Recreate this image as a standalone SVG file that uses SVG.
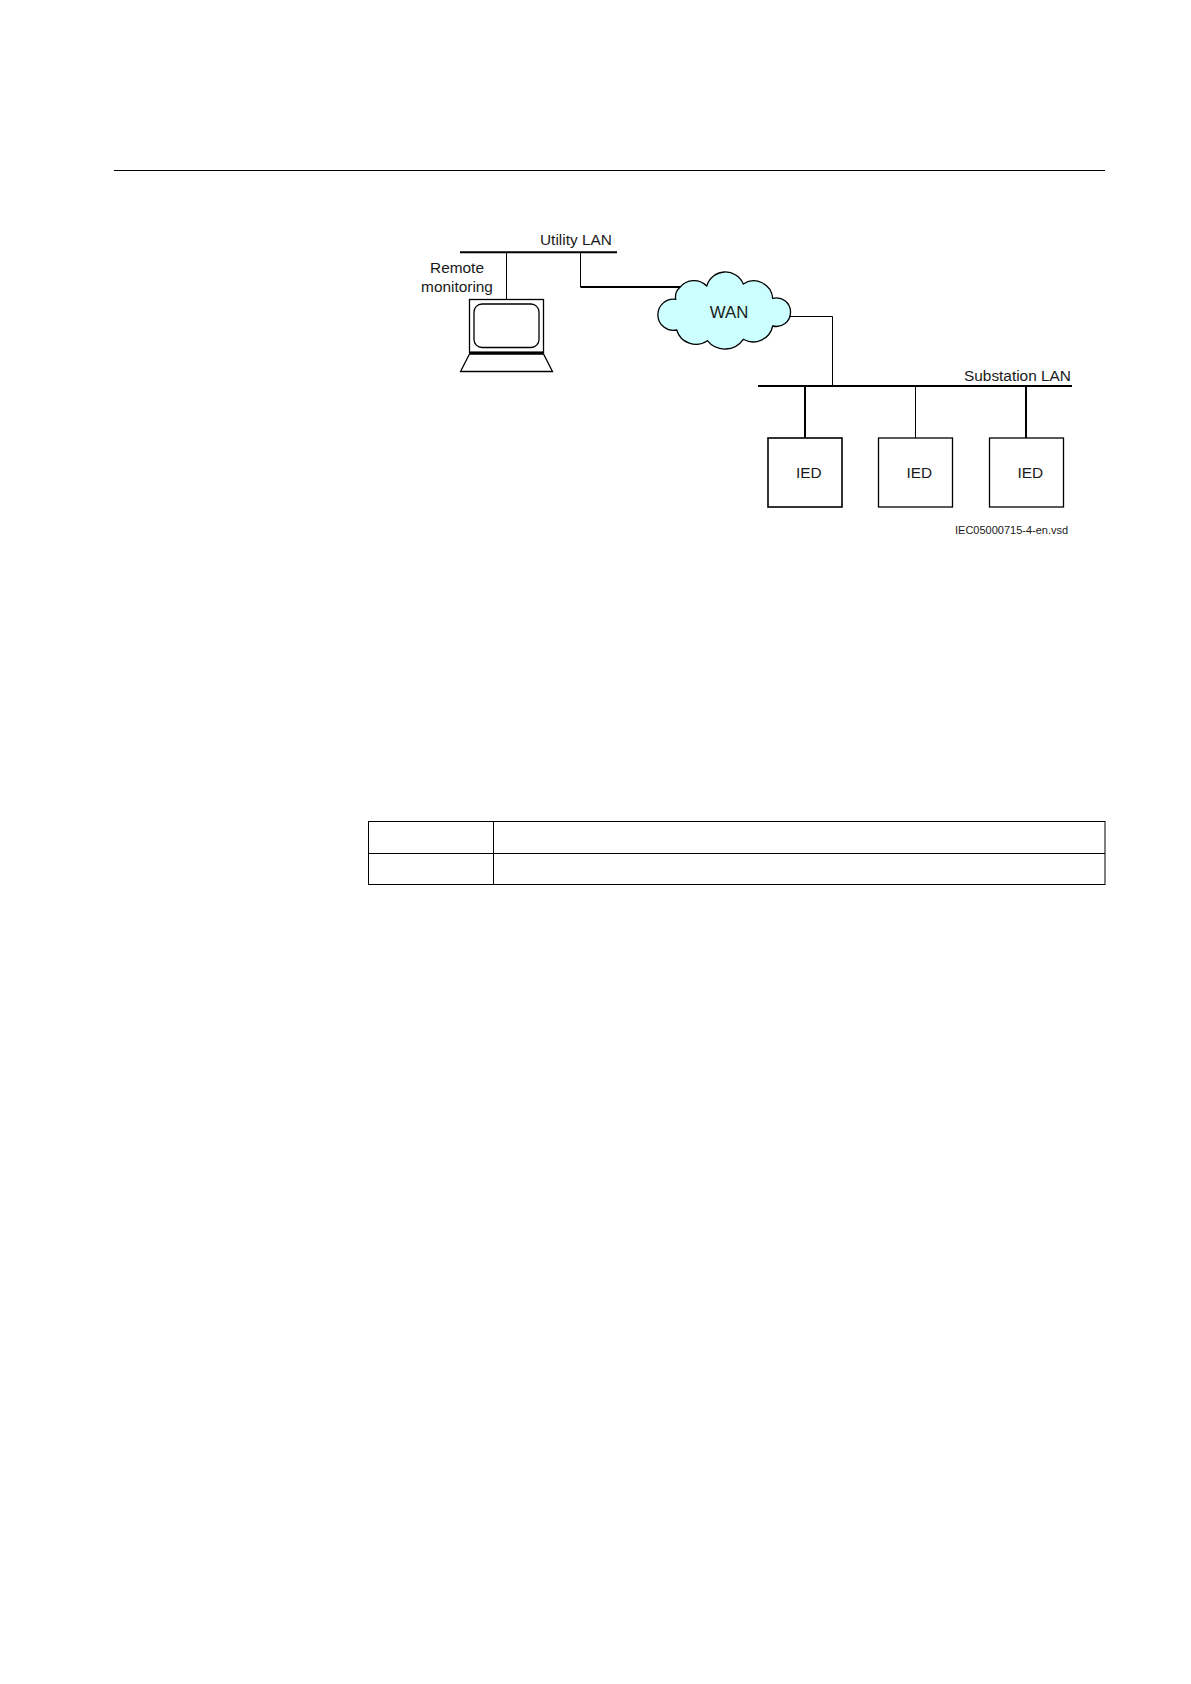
<svg xmlns="http://www.w3.org/2000/svg" width="1191" height="1684" viewBox="0 0 1191 1684">
<style>
text{font-family:"Liberation Sans",Arial,sans-serif;fill:#1a1a1a;font-size:15.4px}
.m{text-anchor:middle}
.l{fill:none;stroke:#000;stroke-width:1}
.t{fill:none;stroke:#000;stroke-width:2}
.b{fill:#fff;stroke:#000;stroke-width:1.3}
</style>
<rect width="1191" height="1684" fill="#fff"/>
<g id="page-rule"><line class="l" x1="114" y1="170.5" x2="1105" y2="170.5"/></g>
<g id="connectors">
<line class="t" x1="460" y1="252.3" x2="617" y2="252.3"/>
<line class="l" x1="506.5" y1="252" x2="506.5" y2="300"/>
<path class="l" d="M580.5 252V287" />
<path class="t" d="M580.5 287H682" />
<path class="l" d="M788 316.5H832.5V385"/>
<line class="t" x1="758" y1="386" x2="1072" y2="386"/>
<line class="t" x1="805" y1="385" x2="805" y2="438"/>
<line class="l" x1="915.5" y1="385" x2="915.5" y2="438"/>
<line class="t" x1="1026" y1="385" x2="1026" y2="438"/>
</g>
<g id="label-utility-lan"><text x="540" y="245">Utility LAN</text></g>
<g id="remote-monitoring">
<text class="m" x="457" y="273">Remote</text>
<text class="m" x="457" y="292">monitoring</text>
<rect class="b" x="469.5" y="299.5" width="74" height="53"/>
<rect x="474" y="304" width="65" height="43.5" rx="8" fill="#fff" stroke="#000" stroke-width="1.3"/>
<path d="M469.5 351.5H543.5V354.5H469.5Z" fill="#000"/>
<path class="b" d="M469.5 354L460.5 371.5H552.5L543.5 354Z"/>
</g>
<g id="wan">
<path d="M675.7 299.3A13 13 0 0 1 680 287.3A18 18 0 0 1 706.7 286A19.4 19.4 0 0 1 743.3 284A19 19 0 0 1 772.7 298.3A14.3 14.3 0 1 1 772.7 326A20 20 0 0 1 743.3 339.3A22.5 22.5 0 0 1 707.3 340.7A20 20 0 0 1 676.7 330A15.6 15.6 0 1 1 675.7 299.3Z" fill="#ccffff" stroke="#000" stroke-width="1.3"/>
<text class="m" x="729" y="318" style="font-size:16.8px">WAN</text>
</g>
<g id="label-substation-lan"><text x="964" y="381">Substation LAN</text></g>
<g id="ied-1"><rect class="t" x="768" y="438" width="74" height="69" style="stroke-width:1.6"/><text x="796" y="478">IED</text></g>
<g id="ied-2"><rect class="b" x="878.5" y="438" width="74" height="69"/><text x="906.5" y="478">IED</text></g>
<g id="ied-3"><rect class="b" x="989.5" y="438" width="74" height="69"/><text x="1017.5" y="478">IED</text></g>
<g id="file-label"><text x="955" y="534" style="font-size:11px">IEC05000715-4-en.vsd</text></g>
<g id="table">
<rect class="l" x="368.5" y="821.5" width="736.5" height="63"/>
<line class="l" x1="493.5" y1="821.5" x2="493.5" y2="884.5"/>
<line class="l" x1="368.5" y1="853.5" x2="1105" y2="853.5"/>
</g>
</svg>
